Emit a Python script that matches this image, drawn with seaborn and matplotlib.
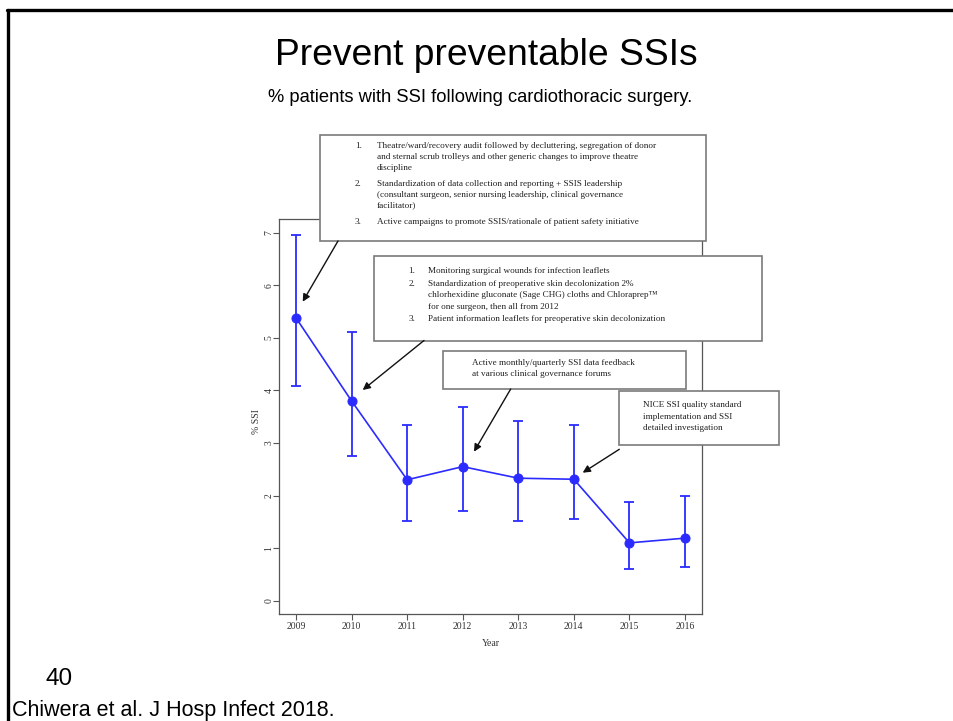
import matplotlib
matplotlib.use("Agg")
import matplotlib.pyplot as plt
from matplotlib.patches import Rectangle, FancyArrowPatch
from matplotlib.lines import Line2D
import numpy as np
import pandas as pd
import seaborn as sns

# ---- data -------------------------------------------------------------
years = [2009, 2010, 2011, 2012, 2013, 2014, 2015, 2016]
ssi_pct = [5.38, 3.80, 2.30, 2.55, 2.33, 2.31, 1.10, 1.19]
ci_low = [4.08, 2.75, 1.52, 1.71, 1.52, 1.55, 0.60, 0.65]
ci_high = [6.96, 5.12, 3.34, 3.68, 3.42, 3.34, 1.88, 1.99]
y_ticks = [0, 1, 2, 3, 4, 5, 6, 7]

title = "Prevent preventable SSIs"
subtitle = "% patients with SSI following cardiothoracic surgery."
slide_number = "40"
citation = "Chiwera et al. J Hosp Infect 2018."

box1_items = [
    ("1.", ["Theatre/ward/recovery audit followed by decluttering, segregation of donor",
            "and sternal scrub trolleys and other generic changes to improve theatre",
            "discipline"]),
    ("2.", ["Standardization of data collection and reporting + SSIS leadership",
            "(consultant surgeon, senior nursing leadership, clinical governance",
            "facilitator)"]),
    ("3.", ["Active campaigns to promote SSIS/rationale of patient safety initiative"]),
]
box2_items = [
    ("1.", ["Monitoring surgical wounds for infection leaflets"]),
    ("2.", ["Standardization of preoperative skin decolonization 2%",
            "chlorhexidine gluconate (Sage CHG) cloths and Chloraprep\u2122",
            "for one surgeon, then all from 2012"]),
    ("3.", ["Patient information leaflets for preoperative skin decolonization"]),
]
box3_lines = ["Active monthly/quarterly SSI data feedback",
              "at various clinical governance forums"]
box4_lines = ["NICE SSI quality standard",
              "implementation and SSI",
              "detailed investigation"]

df = pd.DataFrame({"Year": years, "SSI": ssi_pct})

# ---- figure -----------------------------------------------------------
W, H = 954, 721
sns.set_style("ticks")
plt.rcParams["font.family"] = ["Liberation Serif", "DejaVu Serif"]

fig = plt.figure(figsize=(W / 100, H / 100), dpi=100)
fig.patch.set_facecolor("white")


def fx(x):
    return x / W


def fy(y):
    return 1 - y / H


ax = fig.add_axes([fx(279.3), fy(614), (701.7 - 279.3) / W, (614 - 219) / H])

blue = "#2b2bff"
err_lo = np.array(ssi_pct) - np.array(ci_low)
err_hi = np.array(ci_high) - np.array(ssi_pct)
ax.errorbar(years, ssi_pct, yerr=[err_lo, err_hi], fmt="none", ecolor=blue,
            elinewidth=1.3, capsize=3.4, capthick=1.3, zorder=2)
sns.lineplot(data=df, x="Year", y="SSI", ax=ax, color=blue, linewidth=1.2,
             marker="o", markersize=6.5, markeredgecolor=blue, zorder=3)

ax.set_xlim(2008.70, 2016.30)
ax.set_ylim(-0.253, 7.26)
ax.set_xticks(years)
ax.set_xticklabels([str(y) for y in years])
ax.set_yticks(y_ticks)
ax.set_yticklabels([str(v) for v in y_ticks], rotation=90, va="center")

spine_col = "#555555"
for s in ax.spines.values():
    s.set_color(spine_col)
    s.set_linewidth(0.9)
    s.set_visible(True)
ax.tick_params(direction="out", length=4, width=0.8, color=spine_col,
               labelsize=7, labelcolor="#333333", pad=1.5)
ax.tick_params(axis="y", pad=0.3)
ax.set_xlabel("Year", fontsize=7, color="#333333")
ax.set_ylabel("% SSI", fontsize=7, color="#333333")
ax.xaxis.set_label_coords(0.5, -0.074)
ax.xaxis.label.set_va("center")
ax.yaxis.set_label_coords(-0.054, 0.487)
ax.yaxis.label.set_va("center")
ax.grid(False)

# ---- annotation boxes -------------------------------------------------
txt_kw = dict(fontsize=6.6, color="#1e1e1e", family=["Liberation Serif"],
              va="center", ha="left", zorder=6)


def draw_box(x0, y0, x1, y1):
    fig.add_artist(Rectangle((fx(x0), fy(y1)), (x1 - x0) / W, (y1 - y0) / H,
                             transform=fig.transFigure, facecolor="white",
                             edgecolor="#7a7a7a", linewidth=1.2, zorder=5))


def draw_items(items, num_x, text_x, rows):
    k = 0
    for num, lines in items:
        fig.text(fx(num_x), fy(rows[k]), num, **txt_kw)
        for line in lines:
            fig.text(fx(text_x), fy(rows[k]), line, **txt_kw)
            k += 1


def draw_arrow(x0, y0, x1, y1):
    fig.add_artist(FancyArrowPatch((fx(x0), fy(y0)), (fx(x1), fy(y1)),
                                   transform=fig.transFigure,
                                   arrowstyle="-|>", mutation_scale=11,
                                   color="#111111", linewidth=1.0,
                                   shrinkA=0, shrinkB=0, zorder=6))


draw_box(320, 135, 706, 241)
draw_items(box1_items, 355, 376.7, [146, 157, 168, 184.5, 195, 205.5, 222.5])
draw_arrow(338, 241, 302.7, 301.7)

draw_box(374, 255.5, 762, 340.5)
draw_items(box2_items, 408.3, 427.7, [271, 283.7, 295.3, 306.7, 319.3])
draw_arrow(424, 340.5, 362.7, 390)

draw_box(443, 350.5, 686, 389)
for y, line in zip([363.3, 374], box3_lines):
    fig.text(fx(471.7), fy(y), line, **txt_kw)
draw_arrow(510.7, 389, 474, 451.7)

draw_box(619.3, 390.7, 779, 445.3)
for y, line in zip([405, 416.7, 427.7], box4_lines):
    fig.text(fx(642.7), fy(y), line, **txt_kw)
draw_arrow(619.3, 449.3, 582.7, 472.7)

# ---- slide text and frame ---------------------------------------------
sans = ["Liberation Sans", "DejaVu Sans"]
fig.text(fx(486), fy(65), title, fontsize=26.8, family=sans, ha="center",
         va="baseline", color="black")
fig.text(fx(480.5), fy(101.5), subtitle, fontsize=13.2, family=sans,
         ha="center", va="baseline", color="black")
fig.text(fx(46), fy(685), slide_number, fontsize=17.5, family=sans,
         ha="left", va="baseline", color="black")
fig.text(fx(12), fy(716), citation, fontsize=15.5, family=sans,
         ha="left", va="baseline", color="black")

fig.add_artist(Line2D([fx(8), fx(8)], [fy(9.5), fy(721)], color="black",
                      linewidth=2.4, transform=fig.transFigure))
fig.add_artist(Line2D([fx(6.8), fx(954)], [fy(9.5), fy(9.5)], color="black",
                      linewidth=2.4, transform=fig.transFigure))

fig.savefig("out.png", dpi=100, facecolor="white")
